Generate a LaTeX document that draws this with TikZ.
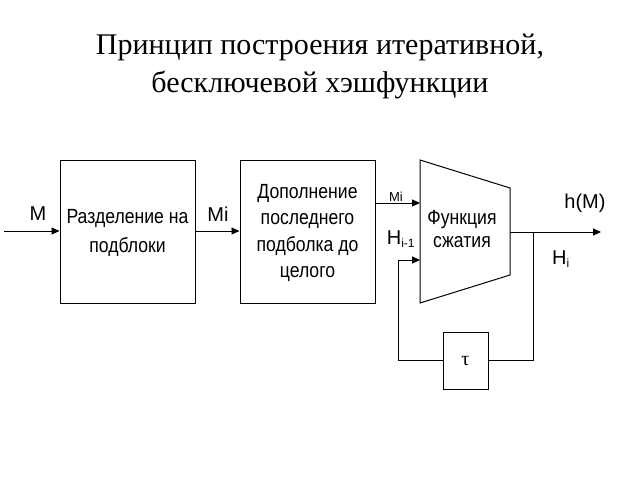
\documentclass[tikz,border=0pt]{standalone}
\usepackage{fontspec}
\setmainfont{Liberation Serif}
\newfontfamily\arialf{Liberation Sans}
\newfontfamily\arialc[FakeStretch=0.86]{Liberation Sans}
\usetikzlibrary{arrows.meta}
\begin{document}
\begin{tikzpicture}[x=1pt,y=-1pt,
  blk/.style={draw,line width=1pt,inner sep=0pt},
  conn/.style={line width=0.9pt,-{Triangle[length=8pt,width=7pt]}},
  wire/.style={line width=0.9pt},
  btxt/.style={font=\arialc\fontsize{20.5}{29}\selectfont,align=center},
  lbl/.style={font=\arialf\fontsize{20}{22}\selectfont}]
\useasboundingbox (0,0) rectangle (640,480);
\node[font=\fontsize{30}{38}\selectfont,align=center] (title) at (320,66) {Принцип построения итеративной,\\бесключевой хэшфункции};
\node[blk,minimum width=135pt,minimum height=143pt] (b1) at (127.5,231.5) {};
\node[btxt] (t1) at (127.5,233) {Разделение на\\подблоки};
\node[blk,minimum width=135pt,minimum height=143pt] (b2) at (307.5,231.5) {};
\node[btxt,font=\arialc\fontsize{20.5}{26.3}\selectfont] (t2) at (307.5,233) {Дополнение\\последнего\\подболка до\\целого};
\coordinate (p1) at (420,160);
\coordinate (p2) at (510,188);
\coordinate (p3) at (510,275);
\coordinate (p4) at (420,303);
\draw[line width=1pt] (p1) -- (p2) -- (p3) -- (p4) -- cycle;
\node[btxt,font=\arialc\fontsize{20.5}{23}\selectfont] (t3) at (462,229) {Функция\\сжатия};
\coordinate (in) at (4,231);
\draw[conn] (in) -- (b1.west |- in);
\draw[conn] (b1.east |- in) -- (b2.west |- in);
\coordinate (mi) at (375,203);
\coordinate (mie) at (420,203);
\draw[conn] (mi) -- (mie);
\coordinate (out) at (510,232);
\coordinate (outend) at (601,232);
\draw[conn] (out) -- (outend);
\coordinate (j) at (533,232);
\node[blk,minimum width=45pt,minimum height=57pt] (tau) at (465.5,360.5) {};
\node[font=\fontsize{20}{20}\selectfont] (taut) at (465.5,361) {τ};
\coordinate (c1) at (533,360);
\coordinate (c2) at (398,360);
\coordinate (c3) at (398,260);
\coordinate (hin) at (420,260);
\draw[wire] (j) -- (c1) -- (tau.east |- c1);
\draw[conn] (tau.west |- c2) -- (c2) -- (c3) -- (hin);
\node[lbl] (lM) at (38,214) {M};
\node[lbl] (lMi) at (218,214) {Mi};
\node[font=\arialf\fontsize{13}{15}\selectfont] (lmi2) at (396,197) {Mi};
\node[lbl] (lH1) at (401,239) {H\textsubscript{\fontsize{12}{12}\selectfont i-1}};
\node[lbl] (lh) at (585,203) {h(M)};
\node[lbl] (lHi) at (561,259) {H\textsubscript{\fontsize{12}{12}\selectfont i}};
\end{tikzpicture}
\end{document}
